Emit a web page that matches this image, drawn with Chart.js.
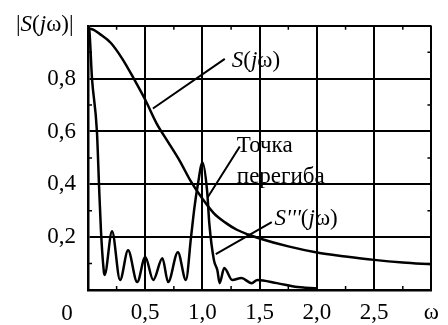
<!DOCTYPE html>
<html>
<head>
<meta charset="utf-8">
<script src="https://cdn.jsdelivr.net/npm/chart.js@4"></script>
<style>
  html, body { margin: 0; padding: 0; background: #fff; }
  #wrap { width: 448px; height: 325px; }
</style>
</head>
<body>
<div id="wrap"><canvas id="chart"></canvas></div>
<script>
// |S(jw)| - spectrum of the pulse
const omegaS = [0, 0.05, 0.1, 0.2, 0.3, 0.4, 0.5, 0.6, 0.7, 0.8, 0.9, 1.0, 1.1, 1.2, 1.3, 1.4, 1.5, 1.75, 2.0, 2.25, 2.5, 2.75, 3.0]
const valS = [0.99, 0.985, 0.97, 0.935, 0.875, 0.80, 0.72, 0.63, 0.56, 0.49, 0.41, 0.345, 0.29, 0.255, 0.228, 0.21, 0.195, 0.165, 0.142, 0.127, 0.114, 0.104, 0.097]

// S'''(jw) - third derivative
const omegaS3 = [0, 0.01, 0.035, 0.078, 0.096, 0.113, 0.14, 0.145, 0.21, 0.28, 0.35, 0.43, 0.5, 0.57, 0.65, 0.70, 0.785, 0.855, 0.9, 0.93, 0.96, 1.0, 1.04, 1.06, 1.1, 1.13, 1.15, 1.19, 1.26, 1.34, 1.43, 1.48, 1.65, 1.83, 1.94, 2.0]
const valS3 = [1.0, 0.99, 0.8, 0.6, 0.4, 0.226, 0.064, 0.057, 0.222, 0.038, 0.15, 0.03, 0.125, 0.038, 0.12, 0.03, 0.143, 0.038, 0.2, 0.313, 0.40, 0.483, 0.377, 0.25, 0.113, 0.075, 0.026, 0.083, 0.038, 0.045, 0.026, 0.038, 0.026, 0.011, 0.008, 0.006]

const xTicks = [0, 0.5, 1.0, 1.5, 2.0, 2.5, 3.0]
const yTicks = [0, 0.2, 0.4, 0.6, 0.8, 1.0]

const font = '"Liberation Serif", "Times New Roman", serif'
const fontSize = 23

function comma(v) {
  return (Math.round(v * 10) / 10).toFixed(1).replace('.', ',')
}

// draw text made of plain and italic pieces
function drawRich(ctx, parts, x, y) {
  parts.forEach(([txt, italic]) => {
    ctx.font = (italic ? 'italic ' : '') + fontSize + 'px ' + font
    ctx.fillText(txt, x, y)
    x += ctx.measureText(txt).width
  })
}

const extras = {
  id: 'extras',
  afterDraw(chart) {
    const ctx = chart.ctx
    const xs = chart.scales.x
    const ys = chart.scales.y
    const area = chart.chartArea
    const px = v => xs.getPixelForValue(v)
    const py = v => ys.getPixelForValue(v)

    ctx.save()
    ctx.strokeStyle = '#000'
    ctx.fillStyle = '#000'

    // small inward ticks
    ctx.lineWidth = 1.5
    ctx.beginPath()
    for (let v = 0.25; v < 3; v += 0.5) {
      ctx.moveTo(px(v), area.top); ctx.lineTo(px(v), area.top + 4)
      ctx.moveTo(px(v), area.bottom); ctx.lineTo(px(v), area.bottom - 4)
    }
    for (let v = 0.1; v < 1; v += 0.2) {
      ctx.moveTo(area.left, py(v)); ctx.lineTo(area.left + 4, py(v))
      ctx.moveTo(area.right, py(v)); ctx.lineTo(area.right - 4, py(v))
    }
    ctx.stroke()

    // pointer lines
    ctx.lineWidth = 2
    ctx.beginPath()
    ctx.moveTo(px(0.567), py(0.687)); ctx.lineTo(px(1.195), py(0.875))
    ctx.moveTo(px(1.326), py(0.543)); ctx.lineTo(px(1.046), py(0.351))
    ctx.moveTo(px(1.116), py(0.136)); ctx.lineTo(px(1.605), py(0.257))
    ctx.stroke()

    ctx.textBaseline = 'alphabetic'
    ctx.textAlign = 'left'
    drawRich(ctx, [['S', true], ['(', false], ['j', true], ['ω)', false]], px(1.256), py(0.845))
    drawRich(ctx, [['Точка', false]], px(1.30), py(0.521))
    drawRich(ctx, [['перегиба', false]], px(1.30), py(0.404))
    drawRich(ctx, [["S'''", true], ['(', false], ['j', true], ['ω)', false]], px(1.63), py(0.245))

    // axis title and origin label
    drawRich(ctx, [['|', false], ['S', true], ['(', false], ['j', true], ['ω)|', false]], 16, 31)
    ctx.font = fontSize + 'px ' + font
    ctx.textAlign = 'center'
    ctx.fillText('0', 67, 320)
    ctx.restore()
  }
}

new Chart(document.getElementById('chart'), {
  type: 'line',
  data: {
    datasets: [{
      data: omegaS.map((w, i) => ({ x: w, y: valS[i] })),
      borderColor: '#000',
      borderWidth: 2.5,
      pointRadius: 0,
      cubicInterpolationMode: 'monotone',
      fill: false
    }, {
      data: omegaS3.map((w, i) => ({ x: w, y: valS3[i] })),
      borderColor: '#000',
      borderWidth: 2.5,
      pointRadius: 0,
      cubicInterpolationMode: 'monotone',
      fill: false
    }]
  },
  options: {
    responsive: true,
    maintainAspectRatio: false,
    animation: false,
    layout: { padding: { left: 0, top: 25, right: 16, bottom: 0 } },
    plugins: { legend: { display: false }, tooltip: { enabled: false } },
    scales: {
      x: {
        type: 'linear',
        min: 0,
        max: 3,
        afterBuildTicks: s => { s.ticks = xTicks.map(v => ({ value: v })) },
        afterFit: s => { s.height = 35 },
        grid: { color: '#000', lineWidth: 2, drawTicks: false },
        border: { color: '#000', width: 2.5 },
        ticks: {
          padding: 9,
          color: '#000',
          maxRotation: 0,
          font: { family: font, size: fontSize },
          callback: v => v === 0 ? '' : (v === 3 ? 'ω' : comma(v))
        }
      },
      y: {
        min: 0,
        max: 1,
        afterBuildTicks: s => { s.ticks = yTicks.map(v => ({ value: v })) },
        afterFit: s => { s.width = 88 },
        grid: { color: '#000', lineWidth: 2, drawTicks: false },
        border: { color: '#000', width: 2.5 },
        ticks: {
          padding: 12,
          color: '#000',
          font: { family: font, size: fontSize },
          callback: v => (v < 0.01 || v > 0.99) ? '' : comma(v)
        }
      }
    }
  },
  plugins: [extras]
})
</script>
</body>
</html>
